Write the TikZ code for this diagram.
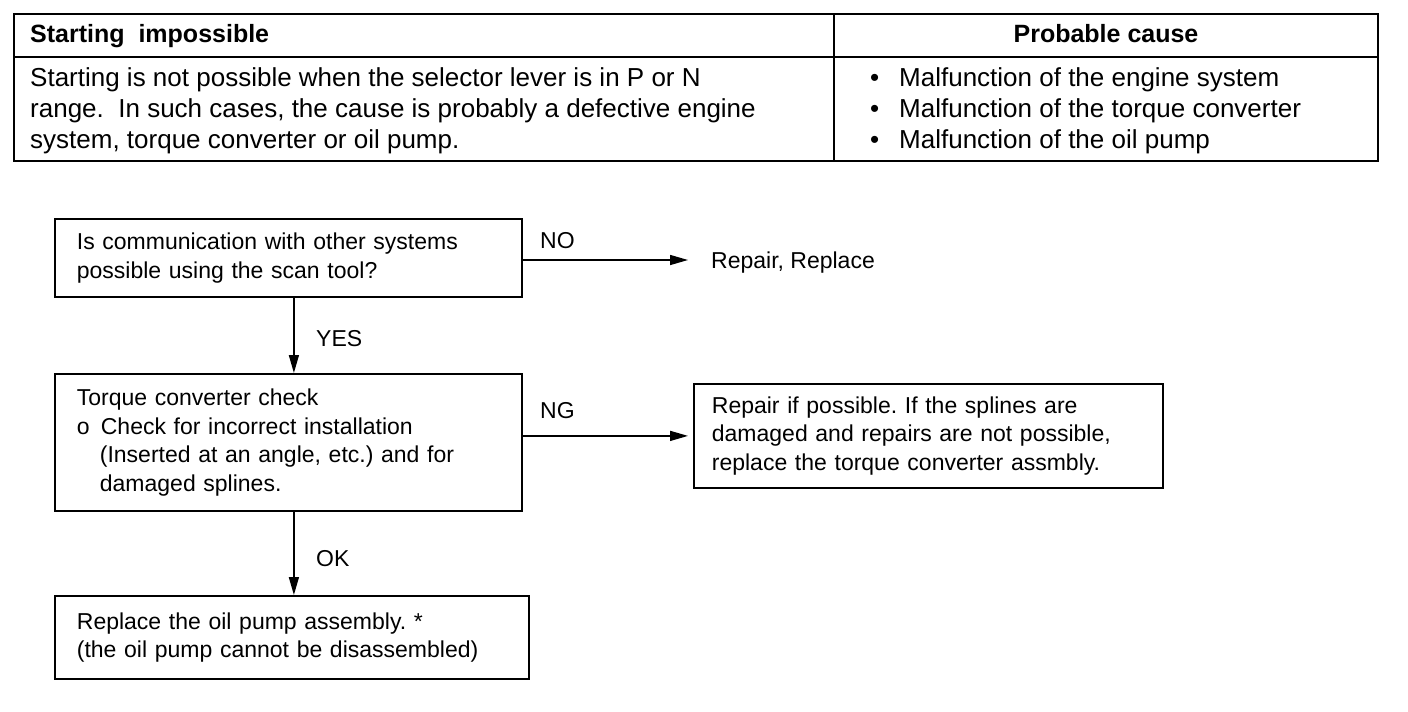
\documentclass[tikz,border=0pt]{standalone}
\usepackage{fontspec}
\setmainfont{Liberation Sans}
\usetikzlibrary{arrows.meta,calc}
\begin{document}
\frenchspacing
\begin{tikzpicture}[x=1pt,y=-1pt,
  tline/.style={line width=1.8pt},
  ttext/.style={anchor=base west,inner sep=0pt,font=\fontsize{26}{31}\selectfont},
  thead/.style={inner sep=0pt,font=\bfseries\fontsize{25}{30}\selectfont},
  fbox/.style={draw,line width=1.8pt,anchor=north west,inner xsep=22pt,inner ysep=0pt,align=left,font=\fontsize{23}{28.5}\selectfont},
  flab/.style={anchor=base west,inner sep=0pt,font=\fontsize{23}{28}\selectfont},
  arr/.style={line width=1.5pt,-{Triangle[length=18pt,width=10pt]}}]
\useasboundingbox (0,0) rectangle (1408,712);
\fill[white] (0,0) rectangle (1408,712);
% table
\draw[tline] (14,14) rectangle (1378,161);
\draw[tline] (14,57) -- (1378,57);
\draw[tline] (834,14) -- (834,161);
\node[thead,anchor=base west] (h1) at (30,42) {Starting\ \ impossible};
\node[thead,anchor=base] (h2) at (1106,42) {Probable cause};
\node[ttext] (t1) at (30,86) {Starting is not possible when the selector lever is in P or N};
\node[ttext] (t2) at (30,117) {range.\ \ In such cases, the cause is probably a defective engine};
\node[ttext] (t3) at (30,148) {system, torque converter or oil pump.};
\node[ttext] (b1) at (870,86) {\textbullet};
\node[ttext] (b2) at (870,117) {\textbullet};
\node[ttext] (b3) at (870,148) {\textbullet};
\node[ttext] (c1) at (899,86) {Malfunction of the engine system};
\node[ttext] (c2) at (899,117) {Malfunction of the torque converter};
\node[ttext] (c3) at (899,148) {Malfunction of the oil pump};
% flowchart
\node[fbox,text width=423pt,minimum height=78pt] (box1) at (54,218)
  {Is communication with other systems\\possible using the scan tool?};
\node[fbox,text width=423pt,minimum height=137pt] (box2) at (54,373)
  {Torque converter check\\\makebox[24pt][l]{o}Check for incorrect installation\\\hspace*{23pt}(Inserted at an angle, etc.) and for\\\hspace*{23pt}damaged splines.};
\node[fbox,inner xsep=18pt,text width=433pt,minimum height=104pt] (box3) at (693,383)
  {Repair if possible. If the splines are\\damaged and repairs are not possible,\\replace the torque converter assmbly.};
\node[fbox,text width=430pt,minimum height=83pt] (box4) at (54,595)
  {Replace the oil pump assembly. *\\(the oil pump cannot be disassembled)};
\node[flab] (rr) at (711,268) {Repair, Replace};
\node[flab] (lno) at (540,248) {NO};
\node[flab] (lyes) at (316,346) {YES};
\node[flab] (lng) at (540,418) {NG};
\node[flab] (lok) at (316,566) {OK};
\coordinate (noend) at ($(rr.base west)+(-23,-8)$);
\draw[arr] (box1.east |- noend) -- (noend);
\draw[arr,shorten >=5pt] (box2.east |- box3.west) -- (box3.west);
\coordinate (yesstart) at ($(box1.south)+(5.5,0)$);
\draw[arr] (yesstart) -- (yesstart |- box2.north);
\coordinate (okstart) at ($(box2.south)+(5.5,0)$);
\draw[arr] (okstart) -- (okstart |- box4.north);
\end{tikzpicture}
\end{document}
